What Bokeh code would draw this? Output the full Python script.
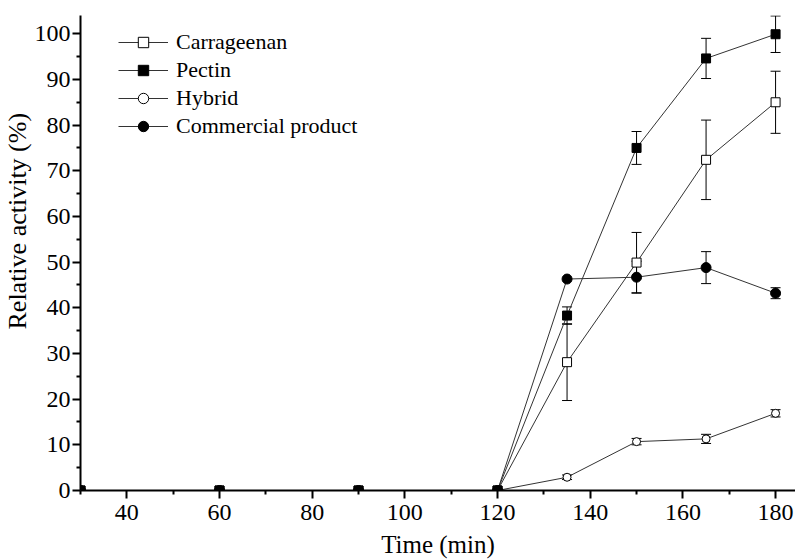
from bokeh.plotting import figure
from bokeh.models import ColumnDataSource, Whisker, TeeHead, FixedTicker, Range1d, Legend, LegendItem, Title
from bokeh.embed import file_html
from bokeh.resources import INLINE

time = [30, 60, 90, 120, 135, 150, 165, 180]
carrageenan = [0, 0, 0, 0, 28.1, 49.9, 72.4, 85.0]
carrageenan_err = [0, 0, 0, 0, 8.4, 6.6, 8.7, 6.8]
pectin = [0, 0, 0, 0, 38.3, 75.0, 94.6, 99.9]
pectin_err = [0, 0, 0, 0, 1.9, 3.6, 4.4, 4.0]
hybrid = [0, 0, 0, 0, 2.9, 10.7, 11.3, 16.9]
hybrid_err = [0, 0, 0, 0, 0.5, 0.7, 1.0, 0.8]
commercial = [0, 0, 0, 0, 46.3, 46.7, 48.8, 43.2]
commercial_err = [0, 0, 0, 0, 0, 3.5, 3.5, 1.2]

x_major = [40, 60, 80, 100, 120, 140, 160, 180]
x_minor = [30, 50, 70, 90, 110, 130, 150, 170]
y_major = [0, 10, 20, 30, 40, 50, 60, 70, 80, 90, 100]
y_minor = [5, 15, 25, 35, 45, 55, 65, 75, 85, 95]
x_title = "Time (min)"
y_title = "Relative activity (%)"

FONT = "Liberation Serif"

p = figure(width=795, height=560, output_backend="svg", toolbar_location=None,
           x_range=Range1d(30, 184.3), y_range=Range1d(0, 104),
           min_border_left=80, min_border_top=15, min_border_bottom=69, min_border_right=0)
p.outline_line_color = None
p.xgrid.visible = False
p.ygrid.visible = False
p.background_fill_color = "white"
p.border_fill_color = "white"

p.xaxis.ticker = FixedTicker(ticks=x_major, minor_ticks=x_minor)
p.yaxis.ticker = FixedTicker(ticks=y_major, minor_ticks=y_minor)
for ax in (p.xaxis[0], p.yaxis[0]):
    ax.axis_line_width = 2
    ax.axis_line_color = "black"
    ax.major_tick_line_width = 2
    ax.major_tick_line_color = "black"
    ax.minor_tick_line_width = 2
    ax.minor_tick_line_color = "black"
    ax.major_tick_out = 8
    ax.major_tick_in = 0
    ax.minor_tick_out = 4
    ax.minor_tick_in = 0
    ax.major_label_text_font = FONT
    ax.major_label_text_font_size = "24px"
    ax.major_label_text_color = "black"
p.xaxis.major_label_standoff = 6
p.yaxis.major_label_standoff = 2

p.xaxis.axis_label = x_title
p.xaxis.axis_label_text_font = FONT
p.xaxis.axis_label_text_font_size = "25px"
p.xaxis.axis_label_text_font_style = "normal"
p.xaxis.axis_label_text_color = "black"
p.xaxis.axis_label_standoff = 8

ytitle = Title(text=y_title, align="left", offset=161, standoff=0,
               text_font=FONT, text_font_size="26px", text_font_style="normal",
               text_color="black")
p.add_layout(ytitle, "left")

series = [
    ("Carrageenan", carrageenan, carrageenan_err, "square", "white", 9),
    ("Pectin", pectin, pectin_err, "square", "black", 9),
    ("Hybrid", hybrid, hybrid_err, "circle", "white", 8),
    ("Commercial product", commercial, commercial_err, "circle", "black", 10),
]

line_rs = {}
for name, vals, errs, marker, fill, size in series:
    line_rs[name] = p.line(time, vals, line_color="#333333", line_width=1)

for name, vals, errs, marker, fill, size in series:
    xs = [t for t, e in zip(time, errs) if e > 0]
    up = [v + e for v, e in zip(vals, errs) if e > 0]
    lo = [v - e for v, e in zip(vals, errs) if e > 0]
    src = ColumnDataSource(dict(x=xs, upper=up, lower=lo))
    w = Whisker(source=src, base="x", upper="upper", lower="lower",
                line_color="black", line_width=1,
                upper_head=TeeHead(size=10, line_color="black", line_width=1),
                lower_head=TeeHead(size=10, line_color="black", line_width=1))
    p.add_layout(w)

items = []
for name, vals, errs, marker, fill, size in series:
    r = p.scatter(time, vals, marker=marker, size=size, fill_color=fill,
                  line_color="black", line_width=1)
    items.append(LegendItem(label=name, renderers=[line_rs[name], r]))

legend = Legend(items=items, location=(38, 351), border_line_color=None,
                background_fill_alpha=0, padding=0, margin=0,
                glyph_width=50, glyph_height=26, spacing=2, label_standoff=8,
                label_text_font=FONT, label_text_font_size="22px",
                label_text_color="black")
p.add_layout(legend)

open("out.html", "w").write(file_html(p, INLINE))
